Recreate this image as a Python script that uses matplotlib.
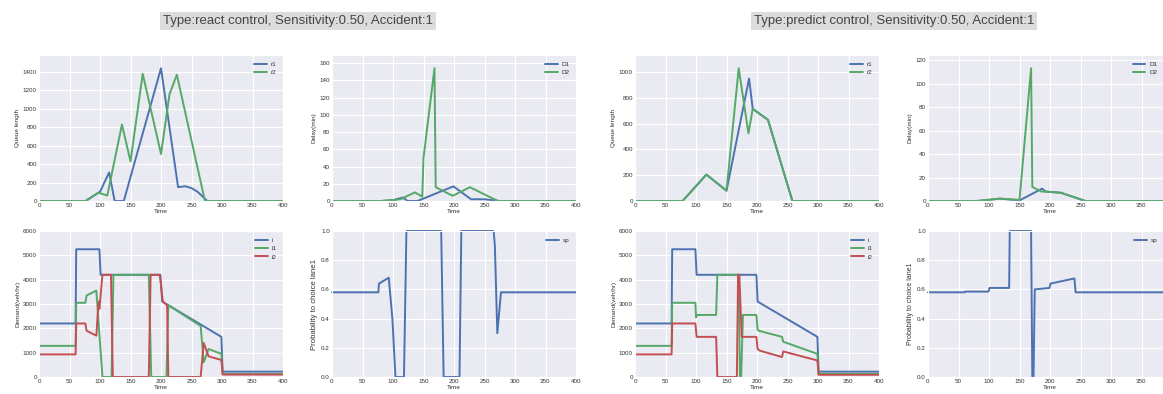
import matplotlib
matplotlib.use("Agg")
import matplotlib.pyplot as plt
import seaborn as sns

sns.set_style("darkgrid")
plt.rcParams['font.family'] = ['Liberation Sans', 'DejaVu Sans']

BLUE, GREEN, RED = "#4C72B0", "#55A868", "#C44E52"

# ---------------- React control ----------------
react_r1_t = [0, 76, 100, 115, 124, 139, 200, 228, 240, 250, 260, 268, 276, 400]
react_r1_v = [0, 0, 100, 310, 0, 0, 1440, 150, 160, 140, 100, 50, 0, 0]
react_r2_t = [0, 77, 97, 112, 136, 150, 170, 200, 214, 226, 272, 400]
react_r2_v = [0, 0, 90, 60, 830, 430, 1380, 510, 1160, 1370, 0, 0]

react_D1_t = [0, 80, 100, 116, 124, 140, 199, 228, 250, 275, 400]
react_D1_v = [0, 0, 1, 4, 0, 0, 17, 2, 2, 0, 0]
react_D2_t = [0, 80, 100, 112, 136, 148, 150, 168, 170, 198, 226, 272, 400]
react_D2_v = [0, 0, 1, 2, 10, 5, 50, 154, 16, 6, 16, 0, 0]

react_i_t = [0, 60, 61, 99, 101, 199, 202, 299, 301, 400]
react_i_v = [2200, 2200, 5250, 5250, 4200, 4200, 3100, 1650, 220, 220]
react_i1_t = [0, 60, 61, 76, 78, 94, 104, 119, 122, 180, 184, 209, 212, 265, 270, 278, 299, 301, 400]
react_i1_v = [1280, 1280, 3050, 3050, 3350, 3550, 0, 0, 4200, 4200, 0, 0, 2950, 2100, 600, 1150, 950, 120, 120]
react_i2_t = [0, 60, 61, 76, 78, 94, 97, 98, 99, 104, 118, 121, 180, 183, 198, 203, 210, 212, 265, 270, 278, 299, 301, 400]
react_i2_v = [930, 930, 2200, 2200, 1900, 1700, 2900, 3100, 2800, 4200, 4200, 0, 0, 4200, 4200, 3100, 2950, 0, 0, 1400, 850, 700, 100, 100]

react_sp_t = [0, 76, 77, 93, 99, 104, 118, 122, 179, 183, 209, 212, 265, 267, 271, 277, 400]
react_sp_v = [0.58, 0.58, 0.64, 0.68, 0.40, 0, 0, 1, 1, 0, 0, 1, 1, 0.9, 0.3, 0.58, 0.58]

# ---------------- Predict control ----------------
pred_r1_t = [0, 78, 117, 150, 187, 193, 218, 258, 400]
pred_r1_v = [0, 0, 205, 80, 950, 715, 630, 0, 0]
pred_r2_t = [0, 78, 117, 150, 170, 186, 193, 218, 258, 400]
pred_r2_v = [0, 0, 205, 80, 1030, 525, 715, 630, 0, 0]

pred_D1_t = [0, 80, 118, 150, 187, 193, 218, 258, 400]
pred_D1_v = [0, 0, 2, 0.5, 10.5, 8, 7, 0, 0]
pred_D2_t = [0, 80, 118, 150, 169, 171, 186, 193, 218, 258, 400]
pred_D2_v = [0, 0, 2, 1, 113, 12, 8, 8, 7, 0, 0]

pred_i_t = [0, 60, 61, 99, 101, 199, 201, 299, 301, 400]
pred_i_v = [2200, 2200, 5250, 5250, 4200, 4200, 3100, 1650, 220, 220]
pred_i1_t = [0, 60, 61, 99, 100, 102, 133, 135, 170, 172, 174, 177, 199, 201, 203, 241, 243, 299, 301, 400]
pred_i1_v = [1280, 1280, 3050, 3050, 2450, 2550, 2550, 4200, 4200, 0, 0, 2550, 2550, 1950, 1900, 1650, 1450, 950, 130, 130]
pred_i2_t = [0, 60, 61, 99, 101, 133, 135, 167, 169, 171, 175, 199, 201, 205, 241, 243, 299, 301, 400]
pred_i2_v = [930, 930, 2200, 2200, 1650, 1650, 0, 0, 4200, 4200, 1650, 1650, 1150, 1080, 820, 1050, 680, 90, 90]

pred_sp_t = [0, 60, 61, 99, 101, 133, 134, 169, 171, 173, 175, 199, 201, 240, 242, 400]
pred_sp_v = [0.58, 0.58, 0.585, 0.585, 0.61, 0.61, 1, 1, 0, 0, 0.6, 0.61, 0.64, 0.675, 0.58, 0.58]

titles = ["Type:react control, Sensitivity:0.50, Accident:1",
          "Type:predict control, Sensitivity:0.50, Accident:1"]

W, H = 1163, 394
fig = plt.figure(figsize=(W / 100, H / 100), dpi=100)

col_left = [39, 332, 635, 928]
row_top = [55, 231]
aw, ah = 244, 146


def make_ax(col, row):
    l = col_left[col] / W
    b = (H - row_top[row] - ah) / H
    ax = fig.add_axes([l, b, aw / W, ah / H])
    ax.tick_params(labelsize=4.5, pad=1.5, length=0, labelcolor="#333333")
    ax.grid(True, color="white", linewidth=0.8)
    return ax


def style(ax, ylabel, ymax, yticks, col, fmt=None, ylsize=4.6):
    ax.set_xlim(0, 400)
    last = 401 if col < 3 else 351
    ax.set_xticks(range(0, last, 50))
    ax.set_ylim(0, ymax)
    ax.set_yticks(yticks)
    if fmt:
        ax.set_yticklabels([fmt.format(v) for v in yticks])
    ax.set_xlabel("Time", fontsize=4.6, labelpad=0.5, color="#333333")
    ax.set_ylabel(ylabel, fontsize=ylsize, labelpad=2, color="#333333")
    anchor = (1.0, 1.0) if col < 3 else (0.966, 1.0)
    leg = ax.legend(loc="upper right", bbox_to_anchor=anchor, fontsize=4.6, frameon=False,
                    handlelength=2.0, handletextpad=0.6, labelspacing=0.45, borderaxespad=0.6)
    for t in leg.get_texts():
        t.set_color("#333333")


lw = 1.4
sets = [
    (react_r1_t, react_r1_v, react_r2_t, react_r2_v, react_D1_t, react_D1_v, react_D2_t, react_D2_v,
     react_i_t, react_i_v, react_i1_t, react_i1_v, react_i2_t, react_i2_v, react_sp_t, react_sp_v,
     range(0, 1401, 200), range(0, 161, 20), 5.6),
    (pred_r1_t, pred_r1_v, pred_r2_t, pred_r2_v, pred_D1_t, pred_D1_v, pred_D2_t, pred_D2_v,
     pred_i_t, pred_i_v, pred_i1_t, pred_i1_v, pred_i2_t, pred_i2_v, pred_sp_t, pred_sp_v,
     range(0, 1001, 200), range(0, 121, 20), 5.0),
]

for k, s in enumerate(sets):
    (r1t, r1v, r2t, r2v, d1t, d1v, d2t, d2v, it, iv, i1t, i1v, i2t, i2v, spt, spv, qt, dt, psz) = s
    c0 = 2 * k
    ax = make_ax(c0, 0)
    ax.plot(r1t, r1v, color=BLUE, lw=lw, label="r1")
    ax.plot(r2t, r2v, color=GREEN, lw=lw, label="r2")
    style(ax, "Queue length", max(max(r1v), max(r2v)) * 1.1, list(qt), c0)

    ax = make_ax(c0 + 1, 0)
    ax.plot(d1t, d1v, color=BLUE, lw=lw, label="D1")
    ax.plot(d2t, d2v, color=GREEN, lw=lw, label="D2")
    style(ax, "Delay(min)", max(max(d1v), max(d2v)) * 1.1, list(dt), c0 + 1)

    ax = make_ax(c0, 1)
    ax.plot(it, iv, color=BLUE, lw=lw, label="i")
    ax.plot(i1t, i1v, color=GREEN, lw=lw, label="i1")
    ax.plot(i2t, i2v, color=RED, lw=lw, label="i2")
    style(ax, "Demand(veh/hr)", 6000, list(range(0, 6001, 1000)), c0)

    ax = make_ax(c0 + 1, 1)
    ax.plot(spt, spv, color=BLUE, lw=lw, label="sp", clip_on=False)
    style(ax, "Probability to choice lane1", 1.0, [0, 0.2, 0.4, 0.6, 0.8, 1.0], c0 + 1,
          fmt="{:.1f}", ylsize=psz)

for xc, txt in zip([298, 894], titles):
    fig.text(xc / W, 1 - 21 / H, txt, ha="center", va="center", fontsize=9.5, color="#444444",
             bbox=dict(facecolor="#dcdcdc", edgecolor="none", pad=1.8))

fig.savefig("out.png", dpi=100)
